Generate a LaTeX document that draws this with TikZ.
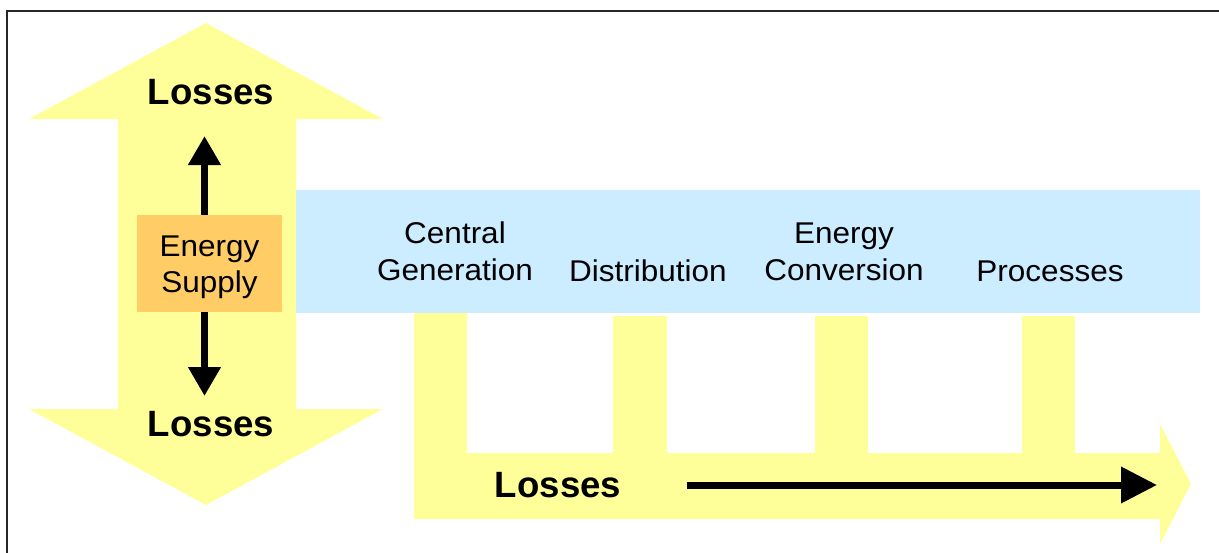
\documentclass[tikz,border=0pt]{standalone}
\usepackage{fontspec}
\setmainfont{Liberation Sans}
\newfontfamily\stagefont{Liberation Sans}[FakeStretch=1.05]
\usetikzlibrary{arrows.meta}
\definecolor{lossyellow}{HTML}{FFFF99}
\definecolor{bandblue}{HTML}{CCECFF}
\definecolor{supplyorange}{HTML}{FFCC66}
\begin{document}
\begin{tikzpicture}[x=1pt,y=-1pt,
  stage/.style={font=\stagefont\fontsize{30}{37}\selectfont, align=center, inner sep=0pt},
  losstext/.style={font=\fontsize{36.6}{44}\selectfont\bfseries, inner sep=0pt, anchor=base},
  blackarrow/.style={line width=7.5pt, -{Triangle[length=29pt,width=31pt]}},
  yellowshape/.style={fill=lossyellow},
]
\useasboundingbox (0,0) rectangle (1219,552);
\fill[white] (0,0) rectangle (1219,552);
\draw[line width=2pt, black!85] (7,553) -- (7,11) -- (1220,11);
% left double arrow
\fill[yellowshape] (206,23) -- (383,119) -- (296,119) -- (296,409) -- (383,409) -- (206,505)
  -- (29,409) -- (118,409) -- (118,119) -- (29,119) -- cycle;
% blue band
\fill[bandblue] (296,190) rectangle (1200,313);
% bottom L arrow
\fill[yellowshape] (414,313) -- (467,313) -- (467,453) -- (1160,453) -- (1160,424) -- (1191,484)
  -- (1160,544) -- (1160,519) -- (414,519) -- cycle;
\fill[yellowshape] (613,316) rectangle (667,453.5);
\fill[yellowshape] (815,316) rectangle (868,453.5);
\fill[yellowshape] (1022,316) rectangle (1075,453.5);
% energy supply
\node[fill=supplyorange, minimum width=145pt, minimum height=97pt, inner sep=0pt,
  align=center, font=\stagefont\fontsize{30}{36}\selectfont] (supply) at (209.5,263.5)
  {\rule{0pt}{27.4pt}Energy\\Supply};
% stages
\node[stage] (central) at (455,251.75) {Central\\Generation};
\node[stage, anchor=base] (distribution) at (648,281) {Distribution};
\node[stage] (conversion) at (844,251.75) {Energy\\Conversion};
\node[stage, anchor=base] (processes) at (1050,281) {Processes};
% losses labels
\node[losstext] (lossTop) at (211,104) {Losses};
\node[losstext] (lossBottom) at (211,436) {Losses};
\node[losstext] (lossRight) at (558,497) {Losses};
% black arrows
\coordinate (uptip) at (204.5,136);
\coordinate (downtip) at (204.5,396);
\coordinate (hstart) at (687,485);
\coordinate (htip) at (1157,485);
\draw[blackarrow] (supply.north -| uptip) -- (uptip);
\draw[blackarrow] (supply.south -| downtip) -- (downtip);
\draw[line width=7pt, -{Triangle[length=36pt,width=35pt]}] (hstart) -- (htip);
\end{tikzpicture}
\end{document}
